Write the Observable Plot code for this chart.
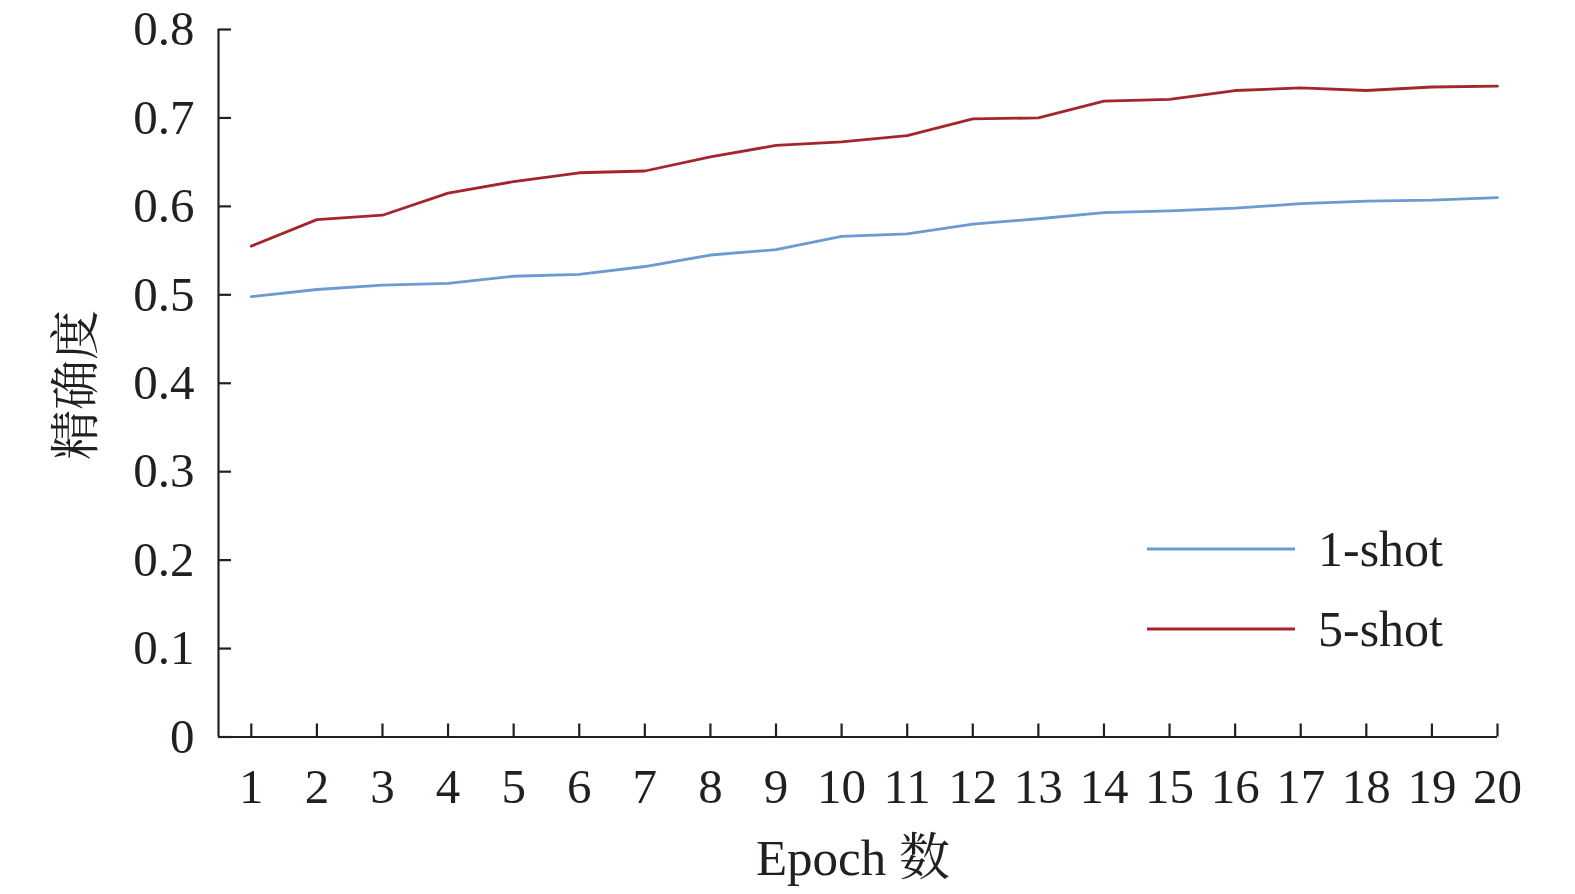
<!DOCTYPE html>
<html>
<head>
<meta charset="utf-8">
<script src="https://cdn.jsdelivr.net/npm/d3@7"></script>
<script src="https://cdn.jsdelivr.net/npm/@observablehq/plot@0.6"></script>
<style>
  html, body { margin: 0; padding: 0; background: #fff; }
  #wrap { position: relative; width: 1575px; height: 894px; }
  #legend { position: absolute; left: 1146px; top: 509px; font-family: "Liberation Serif", "Times New Roman", serif; font-size: 50px; color: #231f20; }
  .item { display: flex; align-items: center; height: 80px; }
  .item svg { margin-right: 22px; }
</style>
</head>
<body>
<div id="wrap">
  <div id="chart"></div>
  <div id="legend"></div>
</div>
<script>
const epochs = [1,2,3,4,5,6,7,8,9,10,11,12,13,14,15,16,17,18,19,20];
const oneShot = [0.498,0.506,0.511,0.513,0.521,0.523,0.532,0.545,0.551,0.566,0.569,0.580,0.586,0.593,0.595,0.598,0.603,0.606,0.607,0.610];
const fiveShot = [0.555,0.585,0.590,0.615,0.628,0.638,0.640,0.656,0.669,0.673,0.680,0.699,0.700,0.719,0.721,0.731,0.734,0.731,0.735,0.736];
const seriesNames = ["1-shot", "5-shot"];
const seriesColors = ["#6b9bd0", "#a4262c"];
const yTicks = [0,0.1,0.2,0.3,0.4,0.5,0.6,0.7,0.8];
const yTickLabels = ["0","0.1","0.2","0.3","0.4","0.5","0.6","0.7","0.8"];
const xTitle = "Epoch 数";
const yTitle = "精确度";

const rows = [];
epochs.forEach((e, i) => {
  rows.push({epoch: e, value: oneShot[i], series: seriesNames[0]});
  rows.push({epoch: e, value: fiveShot[i], series: seriesNames[1]});
});

const ink = "#231f20";
const font = '"Liberation Serif", "Times New Roman", "Noto Serif CJK SC", "Noto Sans CJK SC", serif';

const chart = Plot.plot({
  width: 1575,
  height: 894,
  marginLeft: 218,
  marginRight: 78,
  marginTop: 29,
  marginBottom: 157.5,
  style: {fontFamily: font, fontSize: "49px", color: ink, background: "#fff"},
  x: {domain: [0.5, 20], type: "linear", label: null},
  y: {domain: [0, 0.8], label: null},
  color: {domain: seriesNames, range: seriesColors},
  marks: [
    Plot.ruleX([0.5], {stroke: ink, strokeWidth: 2.2}),
    Plot.ruleY([0], {stroke: ink, strokeWidth: 2.2}),
    // inward ticks
    Plot.axisY({ticks: yTicks, tickSize: 13, dx: 13, tickFormat: () => "", label: null, strokeWidth: 2.2, stroke: ink}),
    Plot.axisX({ticks: epochs, tickSize: 13, dy: -13, tickFormat: () => "", label: null, strokeWidth: 2.2, stroke: ink}),
    // labels
    Plot.axisY({ticks: yTicks, tickSize: 0, tickPadding: 24, tickFormat: (d) => yTickLabels[yTicks.indexOf(d)] ?? "", label: null, fontSize: 49, fill: ink}),
    Plot.axisX({ticks: epochs, tickSize: 0, tickPadding: 31, tickFormat: (d) => String(d), label: null, fontSize: 49, fill: ink}),
    Plot.lineY(rows, {x: "epoch", y: "value", stroke: "series", strokeWidth: 2.8, curve: "linear"}),
  ]
});

// axis titles as SVG text
const svg = d3.select(chart);
svg.append("text")
  .attr("x", 853).attr("y", 875)
  .attr("text-anchor", "middle")
  .attr("font-family", font).attr("font-size", 51).attr("fill", ink)
  .text(xTitle);
svg.append("text")
  .attr("transform", "translate(93,385) rotate(-90)")
  .attr("text-anchor", "middle")
  .attr("font-family", font).attr("font-size", 50).attr("fill", ink)
  .text(yTitle);

document.getElementById("chart").appendChild(chart);

const legend = d3.select("#legend");
seriesNames.forEach((name, i) => {
  const item = legend.append("div").attr("class", "item");
  const s = item.append("svg").attr("width", 150).attr("height", 6);
  s.append("line").attr("x1", 1).attr("x2", 149).attr("y1", 3).attr("y2", 3)
    .attr("stroke", seriesColors[i]).attr("stroke-width", 2.8);
  item.append("span").text(name);
});
</script>
</body>
</html>
